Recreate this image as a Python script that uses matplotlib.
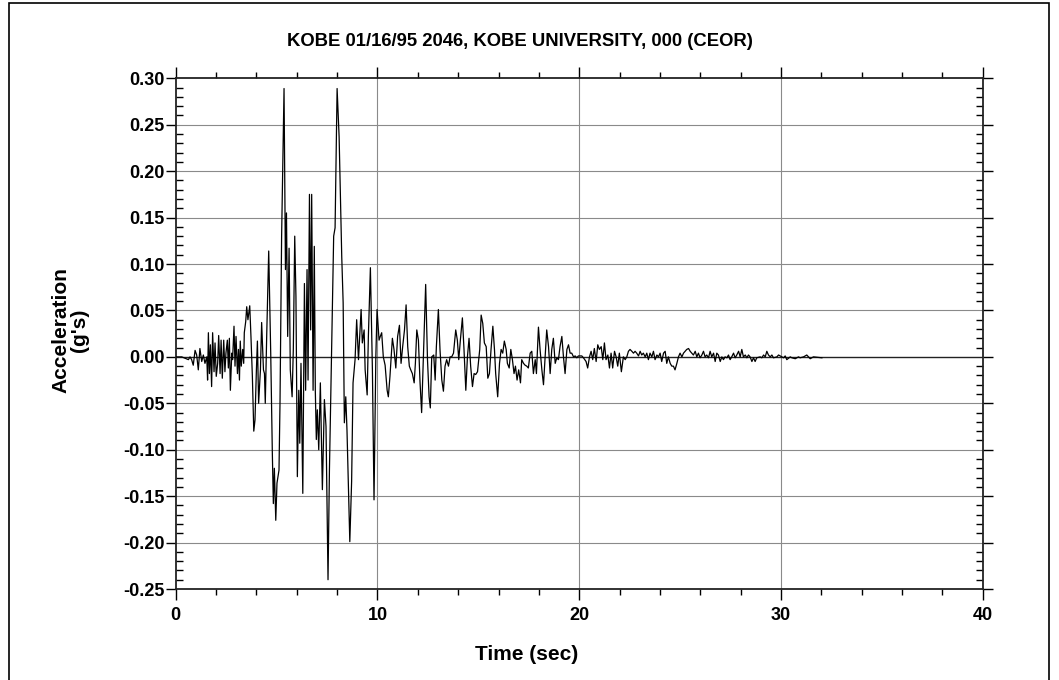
import matplotlib
matplotlib.use("Agg")
import matplotlib.pyplot as plt
from matplotlib.ticker import MultipleLocator, FormatStrFormatter
from matplotlib.patches import Rectangle

plt.rcParams['font.family'] = ['Liberation Sans', 'DejaVu Sans']

title = "KOBE 01/16/95 2046, KOBE UNIVERSITY, 000 (CEOR)"
x_label = "Time (sec)"
y_label = "Acceleration\n(g's)"

time_s = [
    0.00, 0.30, 0.63, 0.71, 0.79, 0.87, 0.96, 1.04, 1.12, 1.20, 1.29, 1.37, 1.45, 1.54,
    1.58, 1.62, 1.67, 1.72, 1.78, 1.83, 1.90, 1.95, 2.01, 2.08, 2.13, 2.20, 2.25, 2.31,
    2.38, 2.44, 2.49, 2.56, 2.61, 2.66, 2.71, 2.78, 2.82, 2.89, 2.94, 2.99, 3.06, 3.11,
    3.16, 3.20, 3.25, 3.32, 3.37, 3.40, 3.47, 3.52, 3.58, 3.67, 3.73, 3.80, 3.87, 3.93,
    4.00, 4.05, 4.11, 4.20, 4.26, 4.35, 4.40, 4.44, 4.51, 4.61, 4.71, 4.79, 4.84, 4.89,
    4.96, 5.02, 5.12, 5.17, 5.25, 5.37,
    5.44, 5.49, 5.55, 5.62, 5.68, 5.77, 5.83, 5.90, 5.96, 6.03, 6.10, 6.15, 6.21, 6.30,
    6.38, 6.44, 6.51, 6.56, 6.63, 6.69, 6.74, 6.81, 6.87, 6.92, 6.97, 7.02, 7.09, 7.17,
    7.27, 7.37, 7.45, 7.55, 7.62, 7.70, 7.77, 7.83, 7.90, 8.00, 8.10, 8.23, 8.30, 8.36,
    8.43, 8.49, 8.63, 8.72, 8.79, 8.89, 8.97, 9.06, 9.19, 9.25, 9.34, 9.39, 9.49, 9.55,
    9.65, 9.75, 9.83, 9.92, 9.98,
    10.08, 10.14, 10.21, 10.29, 10.38, 10.48, 10.54, 10.62, 10.74, 10.82, 10.91, 11.00,
    11.09, 11.17, 11.25, 11.34, 11.42, 11.50, 11.58, 11.65, 11.73, 11.82, 11.88, 11.95,
    12.03, 12.11, 12.19, 12.29, 12.39, 12.48, 12.56, 12.62, 12.69, 12.79, 12.86, 12.92,
    13.02, 13.10, 13.19, 13.27, 13.35, 13.43, 13.52, 13.60, 13.68, 13.77, 13.88, 13.96,
    14.03, 14.11, 14.21, 14.29, 14.38, 14.46, 14.54, 14.62, 14.71, 14.79, 14.87, 14.96,
    15.07, 15.14, 15.22, 15.30, 15.39, 15.47, 15.55, 15.63, 15.72, 15.80, 15.86, 15.96,
    16.05, 16.13, 16.21, 16.29, 16.38, 16.44, 16.53, 16.61, 16.69, 16.77, 16.84, 16.92,
    17.00, 17.09, 17.15, 17.24, 17.32, 17.40, 17.48, 17.57, 17.65, 17.73, 17.82, 17.88,
    17.98, 18.06, 18.15, 18.23, 18.31, 18.39, 18.48, 18.56, 18.64, 18.72, 18.81, 18.89,
    18.97, 19.05, 19.14, 19.22, 19.30, 19.39, 19.47, 19.55, 19.63, 19.72, 19.80, 19.88,
    19.96, 20.13,
    20.21, 20.34, 20.42, 20.51, 20.59, 20.67, 20.75, 20.84, 20.92, 21.00, 21.09, 21.17,
    21.25, 21.33, 21.42, 21.50, 21.58, 21.66, 21.75, 21.83, 21.91, 21.99, 22.09, 22.19,
    22.28, 22.36, 22.44, 22.52, 22.61, 22.69, 22.77, 22.85, 22.94, 23.02, 23.10, 23.18,
    23.27, 23.35, 23.43, 23.51, 23.60, 23.68, 23.76, 23.85, 23.93, 24.01, 24.09, 24.18,
    24.26, 24.34, 24.42, 24.51, 24.59, 24.67, 24.75, 24.84, 24.92, 25.00, 25.09, 25.17,
    25.25, 25.33, 25.42, 25.50, 25.58, 25.66, 25.75, 25.83, 25.91, 25.99, 26.08, 26.16,
    26.24, 26.32, 26.41, 26.49, 26.57, 26.66, 26.74, 26.82, 26.90, 26.99, 27.07, 27.15,
    27.23, 27.32, 27.40, 27.48, 27.56, 27.65, 27.73, 27.81, 27.90, 27.98, 28.06, 28.14,
    28.23, 28.31, 28.39, 28.47, 28.56, 28.64, 28.72, 28.80, 28.97, 29.05, 29.14, 29.22,
    29.30, 29.38, 29.47, 29.55, 29.63, 29.80, 29.88, 30.04, 30.13, 30.21, 30.29, 30.46,
    30.54, 30.71, 30.87, 30.95, 31.12, 31.28, 31.45, 31.61, 32.03,
]

# acceleration (g) at those times
accel_g = [
    0.000, 0.000, -0.003, 0.000, -0.003, -0.009, 0.007, 0.002, -0.014, 0.009, -0.005, 0.002, -0.007, 0.000,
    -0.025, 0.026, -0.018, 0.013, -0.032, 0.026, -0.016, 0.015, -0.021, -0.007, 0.023, -0.018, 0.018, -0.023,
    0.018, -0.016, 0.004, 0.018, -0.012, 0.020, -0.036, 0.004, -0.003, 0.033, -0.010, 0.022, -0.018, 0.008,
    -0.025, 0.017, -0.010, 0.008, -0.007, 0.026, 0.038, 0.054, 0.040, 0.055, 0.022, -0.021, -0.080, -0.068,
    -0.014, 0.017, -0.050, -0.014, 0.037, -0.014, -0.018, -0.050, 0.022, 0.114, 0.004, -0.104, -0.158, -0.120,
    -0.176, -0.136, -0.122, -0.050, 0.130, 0.289,
    0.094, 0.155, 0.022, 0.117, -0.014, -0.043, 0.008, 0.130, 0.065, -0.129, -0.036, -0.093, -0.007, -0.147,
    0.079, -0.036, 0.094, -0.025, 0.175, 0.029, 0.175, -0.036, 0.119, -0.036, -0.089, -0.057, -0.100, -0.028,
    -0.143, -0.046, -0.075, -0.240, -0.122, -0.025, 0.058, 0.130, 0.139, 0.289, 0.237, 0.108, 0.058, -0.071,
    -0.043, -0.079, -0.199, -0.134, -0.028, -0.003, 0.040, -0.003, 0.051, 0.015, 0.029, -0.014, -0.041, 0.022,
    0.096, -0.014, -0.154, 0.000, 0.051,
    0.018, 0.022, 0.026, 0.000, -0.009, -0.036, -0.043, -0.021, 0.020, 0.008, -0.012, 0.022,
    0.034, -0.007, 0.011, 0.029, 0.056, 0.011, -0.010, -0.014, -0.018, -0.028, -0.007, 0.029,
    0.018, -0.027, -0.060, 0.008, 0.078, -0.003, -0.043, -0.055, 0.000, 0.002, -0.025, 0.011,
    0.051, 0.008, -0.025, -0.037, -0.010, -0.003, -0.010, 0.000, 0.000, 0.004, 0.029, 0.018,
    -0.003, 0.018, 0.042, 0.008, -0.036, 0.000, 0.020, -0.010, -0.032, -0.018, -0.019, -0.016,
    0.008, 0.045, 0.036, 0.015, 0.011, -0.023, -0.018, 0.008, 0.033, 0.008, -0.018, -0.043,
    -0.007, 0.008, 0.004, 0.017, 0.008, -0.007, -0.012, 0.008, -0.003, -0.018, -0.010, -0.025,
    -0.014, -0.028, -0.003, -0.007, -0.009, -0.010, -0.012, 0.004, 0.006, -0.018, -0.003, -0.018,
    0.032, 0.008, -0.014, -0.030, 0.000, 0.029, 0.011, -0.018, 0.008, 0.020, -0.007, -0.001,
    -0.003, 0.011, 0.022, 0.000, -0.018, 0.008, 0.013, 0.004, 0.004, 0.000, 0.001, -0.001,
    0.001, 0.001,
    -0.001, -0.005, -0.012, 0.000, 0.006, -0.003, 0.009, -0.005, 0.013, 0.008, 0.011, -0.003,
    0.015, -0.003, 0.002, -0.012, 0.004, -0.012, 0.006, 0.000, -0.010, 0.004, -0.016, 0.000,
    -0.003, 0.000, 0.006, 0.008, 0.006, 0.004, 0.006, 0.004, 0.001, 0.006, 0.002, 0.004,
    0.000, 0.004, -0.003, 0.004, 0.000, 0.006, -0.003, 0.002, 0.000, 0.004, -0.005, 0.004,
    0.006, -0.007, 0.000, -0.007, -0.010, -0.010, -0.014, -0.007, 0.000, 0.004, 0.000, 0.004,
    0.006, 0.008, 0.009, 0.006, 0.004, 0.002, 0.006, 0.000, 0.004, -0.001, 0.002, 0.006,
    0.000, 0.002, -0.001, 0.006, 0.000, 0.004, -0.005, 0.004, 0.002, -0.005, 0.000, -0.003,
    0.000, -0.001, 0.002, -0.003, 0.000, 0.004, -0.001, 0.002, 0.006, 0.000, 0.008, 0.000,
    0.002, -0.001, 0.002, 0.000, -0.005, -0.001, -0.005, -0.001, 0.000, -0.001, 0.002, 0.000,
    0.006, 0.002, 0.000, 0.002, -0.001, 0.000, 0.002, 0.000, -0.001, 0.001, -0.003, 0.000,
    -0.001, -0.002, 0.000, -0.001, 0.000, 0.002, -0.002, 0.000, -0.001,
]

x_ticks = [0, 10, 20, 30, 40]
y_ticks = [-0.25, -0.20, -0.15, -0.10, -0.05, 0.00, 0.05, 0.10, 0.15, 0.20, 0.25, 0.30]

W, H = 1059, 680
fig = plt.figure(figsize=(W / 100, H / 100), dpi=100)
ax = fig.add_axes([175.7 / W, 1 - 589 / H, (982.7 - 175.7) / W, (589 - 78.3) / H])

ax.set_xlim(0, 40)
ax.set_ylim(-0.25, 0.30)

grid_col = '#8a8a8a'
for xv in x_ticks[1:-1]:
    ax.axvline(xv, color=grid_col, lw=0.8, zorder=1)
for yv in y_ticks[1:-1]:
    ax.axhline(yv, color=('#222222' if yv == 0 else grid_col), lw=(1.0 if yv == 0 else 0.8), zorder=1)

ax.plot(time_s, accel_g, color='black', lw=0.9, zorder=3)

ax.set_xticks(x_ticks)
ax.set_yticks(y_ticks)
ax.xaxis.set_minor_locator(MultipleLocator(2))
ax.yaxis.set_minor_locator(MultipleLocator(0.01))
ax.yaxis.set_major_formatter(FormatStrFormatter('%.2f'))

ax.tick_params(axis='x', which='major', direction='out', length=8, width=1.0,
               top=True, bottom=True, labelsize=13, pad=5)
ax.tick_params(axis='x', which='minor', direction='out', length=4, width=1.0,
               top=True, bottom=True)
ax.tick_params(axis='y', which='major', direction='out', length=7, width=1.0,
               left=True, right=True, labelsize=13, pad=1)
ax.tick_params(axis='y', which='minor', direction='in', length=5, width=1.0,
               left=True, right=True)
for lab in ax.get_xticklabels() + ax.get_yticklabels():
    lab.set_fontweight('bold')

for s in ax.spines.values():
    s.set_linewidth(1.3)
    s.set_color('#222222')

fig.text(520 / W, 1 - 41 / H, title, ha='center', va='center', fontsize=13.3, fontweight='bold')
fig.text(527 / W, 1 - 655 / H, x_label, ha='center', va='center', fontsize=15, fontweight='bold')
fig.text(70 / W, 1 - 330 / H, y_label, ha='center', va='center', fontsize=15, fontweight='bold',
         rotation=90, multialignment='center', linespacing=1.0)

fig.patches.append(Rectangle((9 / W, -0.01), (1049 - 9) / W, 1.01 - 3 / H,
                             transform=fig.transFigure, fill=False, edgecolor='black', lw=1.2))

fig.savefig('out.png', dpi=100)
